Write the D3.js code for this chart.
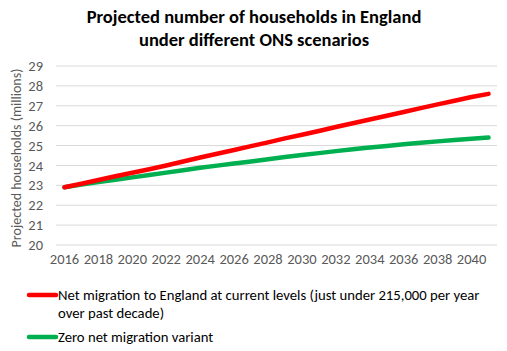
<!DOCTYPE html>
<html lang="en">
<head>
    <meta charset="UTF-8">
    <title>Projected households</title>
    <script src="https://cdn.jsdelivr.net/npm/d3@7"></script>
    <style>
        body { margin: 0; background: #fff; }
        text { font-family: Calibri, Carlito, Lato, sans-serif; }
    </style>
</head>
<body>
<script>
    // data
    var years = d3.range(2016, 2042);
    var tickYears = [2016, 2018, 2020, 2022, 2024, 2026, 2028, 2030, 2032, 2034, 2036, 2038, 2040];
    var yTicks = [20, 21, 22, 23, 24, 25, 26, 27, 28, 29];
    var currentMigration = [22.90, 23.08, 23.27, 23.46, 23.63, 23.81, 24.00, 24.20, 24.40, 24.59,
        24.78, 24.97, 25.16, 25.36, 25.54, 25.73, 25.93, 26.12, 26.31, 26.50,
        26.69, 26.88, 27.07, 27.25, 27.44, 27.60];
    var zeroMigration = [22.90, 23.04, 23.17, 23.28, 23.40, 23.52, 23.64, 23.76, 23.88, 23.99,
        24.10, 24.20, 24.31, 24.42, 24.52, 24.62, 24.72, 24.81, 24.90, 24.98,
        25.06, 25.14, 25.21, 25.28, 25.34, 25.40];
    var seriesNames = ["Net migration to England at current levels (just under 215,000 per year",
        "over past decade)"];
    var zeroName = "Zero net migration variant";

    var width = 507, height = 351;
    var svg = d3.select("body").append("svg")
        .attr("width", width)
        .attr("height", height);

    // title
    var title = svg.append("text")
        .attr("text-anchor", "middle")
        .attr("font-weight", "bold")
        .attr("font-size", "18.5px")
        .attr("fill", "#000");
    title.append("tspan").attr("x", 254).attr("y", 23).text("Projected number of households in England");
    title.append("tspan").attr("x", 254).attr("y", 46).text("under different ONS scenarios");

    var x = d3.scaleBand()
        .domain(years)
        .range([56, 497]);
    var y = d3.scaleLinear()
        .domain([20, 29])
        .range([245, 66]);

    // gridlines
    svg.append("g")
        .selectAll("line")
        .data(yTicks)
        .enter()
        .append("line")
        .attr("x1", 56)
        .attr("x2", 497)
        .attr("y1", d => y(d))
        .attr("y2", d => y(d))
        .attr("stroke", "#d9d9d9")
        .attr("stroke-width", 1);

    // y axis
    var yAxis = svg.append("g")
        .attr("transform", "translate(43,0)")
        .call(d3.axisLeft(y).tickValues(yTicks).tickSize(0).tickPadding(0));
    yAxis.select(".domain").remove();
    yAxis.selectAll("text")
        .attr("font-size", "14.5px")
        .attr("fill", "#595959")
        .style("font-family", "Calibri, Carlito, Lato, sans-serif");

    // x axis
    var xAxis = svg.append("g")
        .attr("transform", "translate(0,254)")
        .call(d3.axisBottom(x).tickValues(tickYears).tickSize(0).tickPadding(0));
    xAxis.select(".domain").remove();
    xAxis.selectAll("text")
        .attr("font-size", "14.5px")
        .attr("fill", "#595959")
        .style("font-family", "Calibri, Carlito, Lato, sans-serif");

    svg.append("text")
        .attr("transform", "translate(21,158) rotate(-90)")
        .attr("text-anchor", "middle")
        .attr("font-size", "14px")
        .attr("fill", "#595959")
        .text("Projected households (millions)");

    var line = d3.line()
        .x((d, i) => x(years[i]) + x.bandwidth() / 2)
        .y(d => y(d));

    var series = [
        {values: zeroMigration, color: "#00b050"},
        {values: currentMigration, color: "#ff0000"}
    ];
    svg.append("g")
        .selectAll("path")
        .data(series)
        .enter()
        .append("path")
        .attr("d", d => line(d.values))
        .attr("fill", "none")
        .attr("stroke", d => d.color)
        .attr("stroke-width", 4.5)
        .attr("stroke-linecap", "round")
        .attr("stroke-linejoin", "round");

    // legend
    var legend = svg.append("g");
    legend.append("line")
        .attr("x1", 29).attr("x2", 56).attr("y1", 295).attr("y2", 295)
        .attr("stroke", "#ff0000").attr("stroke-width", 4.5).attr("stroke-linecap", "round");
    legend.append("line")
        .attr("x1", 29).attr("x2", 56).attr("y1", 337).attr("y2", 337)
        .attr("stroke", "#00b050").attr("stroke-width", 4.5).attr("stroke-linecap", "round");
    var lt = legend.append("text")
        .attr("font-size", "14.7px")
        .attr("fill", "#000");
    lt.append("tspan").attr("x", 58).attr("y", 300).text(seriesNames[0]);
    lt.append("tspan").attr("x", 58).attr("y", 318).text(seriesNames[1]);
    legend.append("text")
        .attr("x", 58).attr("y", 342)
        .attr("font-size", "14.7px")
        .attr("fill", "#000")
        .text(zeroName);
</script>
</body>
</html>
